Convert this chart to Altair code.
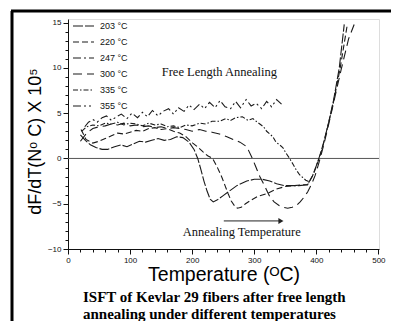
import altair as alt
import pandas as pd

# ---------------- data ----------------
series_names = ["203 °C", "220 °C", "247 °C", "300 °C", "335 °C", "355 °C"]
series_dash = [[10, 2], [6, 3], [8, 3, 2, 3], [9, 5], [5, 2, 1.5, 2], [8, 3, 2, 3, 2, 3]]

t203 = [20, 28, 36, 45, 55, 64, 75, 85, 95, 105, 115, 125, 135, 145, 155, 165, 175, 185, 195, 203,
        209, 214, 219, 224, 229, 234, 240, 250, 260, 272, 288, 300, 313, 325, 336, 348, 360, 372, 386,
        394, 400, 406, 412, 420, 428, 437, 445]
v203 = [2.6, 2.0, 1.5, 1.2, 1.0, 1.0, 1.3, 1.5, 1.3, 1.6, 1.9, 1.8, 2.0, 2.2, 2.0, 2.1, 2.4, 2.3, 1.8, 1.0,
        0.0, -1.2, -2.5, -3.6, -4.5, -4.8, -4.6, -4.1, -3.6, -3.0, -2.5, -2.3, -2.3, -2.5, -2.8, -3.0, -3.0, -3.0, -2.9,
        -1.9, -0.8, 0.4, 1.8, 4.0, 6.5, 10.0, 14.8]

t220 = [21, 29, 40, 50, 60, 70, 80, 90, 100, 110, 120, 130, 140, 150, 160, 170, 180, 190, 201, 210, 218,
        225, 233, 240, 248, 253, 258, 263, 268, 273, 279, 286, 295, 305, 320, 335, 350, 365, 378, 386,
        395, 403, 410, 418, 427, 438, 450]
v220 = [3.2, 2.1, 1.7, 1.9, 2.2, 2.5, 2.8, 2.7, 2.9, 3.1, 3.0, 3.3, 3.4, 3.2, 3.3, 3.0, 2.8, 2.4, 1.7, 1.2, 0.7,
        0.3, 0.0, -0.9, -2.1, -3.0, -3.9, -4.7, -5.2, -5.5, -5.4, -5.0, -4.6, -4.2, -3.9, -3.4, -3.1, -3.0, -2.9, -2.9,
        -1.8, -0.3, 1.2, 3.4, 6.0, 9.8, 14.8]

t300 = [20, 30, 40, 50, 60, 70, 80, 90, 100, 110, 120, 130, 140, 150, 160, 170, 180, 190, 200, 212, 222,
        232, 244, 256, 266, 277, 288, 297, 303, 309, 315, 320, 325, 332, 340, 347, 354, 361, 368, 374, 380,
        386, 392, 398, 405, 412, 420, 430, 440, 452, 461]
v300 = [1.9, 2.8, 3.3, 3.5, 3.6, 3.8, 3.7, 3.9, 3.6, 3.7, 3.5, 3.6, 3.4, 3.5, 3.3, 3.4, 3.3, 3.2, 3.0, 3.2, 3.0,
        2.9, 2.7, 2.4, 2.1, 1.8, 1.3, 0.0, -1.0, -2.0, -2.8, -3.5, -4.2, -4.8, -5.2, -5.4, -5.5, -5.4, -5.2, -4.8, -4.3,
        -3.7, -2.9, -1.9, -0.3, 1.5, 3.8, 6.8, 9.8, 13.2, 14.8]

t335 = [22, 30, 40, 50, 60, 70, 80, 90, 100, 110, 120, 130, 140, 150, 160, 170, 180, 190, 200, 212, 222,
        232, 244, 254, 262, 270, 281, 290, 298, 305, 309, 315, 320, 325, 330, 335, 341, 346, 351, 357, 363,
        368, 373, 378, 383, 389]
v335 = [3.0, 3.5, 3.7, 3.6, 3.9, 3.8, 4.0, 3.7, 3.9, 3.8, 3.6, 3.9, 3.7, 3.8, 3.5, 3.6, 3.4, 3.7, 3.6, 3.9, 3.8,
        4.1, 4.1, 4.4, 4.2, 4.5, 4.6, 4.2, 4.4, 4.0, 3.8, 3.5, 3.0, 2.7, 2.4, 1.8, 1.5, 1.2, 0.6, 0.0, -0.7,
        -1.3, -1.8, -2.1, -2.4, -2.6]

t355 = [27, 33, 40, 47, 55, 62, 70, 78, 86, 95, 103, 112, 120, 128, 136, 145, 153, 162, 170, 178, 187,
        195, 203, 212, 220, 228, 237, 245, 253, 262, 270, 278, 287, 295, 303, 312, 320, 328, 336, 344]
v355 = [3.5, 4.0, 4.3, 4.0, 4.5, 4.7, 4.2, 4.6, 4.9, 4.4, 5.0, 4.5, 5.1, 4.6, 5.3, 4.7, 5.2, 5.5, 4.9, 5.6, 5.2,
        5.9, 5.4, 6.0, 5.5, 6.2, 5.6, 6.4, 5.7, 5.5, 6.3, 5.6, 6.5, 5.8, 6.1, 5.5, 6.3, 5.7, 6.5, 6.0]

x_major = [0, 100, 200, 300, 400, 500]
x_minor = list(range(0, 501, 20))
y_major = [-10, -5, 0, 5, 10, 15]
y_minor = list(range(-10, 16, 1))

note_text = ["Free Length Annealing", "Annealing Temperature"]
note_x = [151, 185]
note_y = [9.5, -8.1]
arrow_x = [251, 340]
arrow_y = [-6.9, -6.9]

x_title = "Temperature (ᴼC)"
y_title = "dF/dT(Nᵒ C) X 10⁵"
caption = ["ISFT of Kevlar 29 fibers after free length",
           "annealing under different temperatures"]

# ---------------- build tables ----------------
rows = []
for name, ts, vs in [("203 °C", t203, v203), ("220 °C", t220, v220), ("300 °C", t300, v300),
                     ("335 °C", t335, v335), ("355 °C", t355, v355)]:
    for t, v in zip(ts, vs):
        rows.append({"series": name, "T": t, "v": v})
df = pd.DataFrame(rows)

notes = pd.DataFrame({"text": note_text, "T": note_x, "v": note_y})
arrow = pd.DataFrame({"T": [arrow_x[0]], "T2": [arrow_x[1]], "v": [arrow_y[0]]})
arrow_head = pd.DataFrame({"T": [arrow_x[1] + 3], "v": [arrow_y[1]]})

W, H = 311, 230
xs = alt.Scale(domain=[0, 501], nice=False, zero=False)
ys = alt.Scale(domain=[-10, 15.4], nice=False, zero=False)

x_axis = alt.Axis(values=x_major, title=x_title, orient="bottom", tickSize=5,
                  labelFont="Liberation Sans", labelFontSize=8, labelColor="#111", labelPadding=2,
                  titleFont="Liberation Sans", titleFontSize=19.5, titleFontWeight="normal",
                  titleColor="#000", titleY=25.5, titleBaseline="middle", grid=False,
                  domainColor="#111", tickColor="#111", labelOverlap=False, labelFlush=False)
y_axis = alt.Axis(values=y_major, title=y_title, orient="left", tickSize=5,
                  labelFont="Liberation Sans", labelFontSize=8, labelColor="#111", labelPadding=2,
                  titleFont="Liberation Sans", titleFontSize=18, titleFontWeight="normal",
                  titleColor="#000", titleAngle=270, titleX=-33, titleY=122, titleAlign="center",
                  titleBaseline="middle", grid=False, domainColor="#111", tickColor="#111",
                  labelOverlap=False, labelFlush=False)

x_minor_axis = alt.Axis(values=x_minor, labels=False, tickSize=3, domain=False, title=None,
                        orient="bottom", grid=False, tickColor="#111")
y_minor_axis = alt.Axis(values=y_minor, labels=False, tickSize=3, domain=False, title=None,
                        orient="left", grid=False, tickColor="#111")

lines = alt.Chart(df).mark_line(strokeWidth=1.1, color="#1a1a1a").encode(
    x=alt.X("T:Q", scale=xs, axis=x_axis),
    y=alt.Y("v:Q", scale=ys, axis=y_axis),
    strokeDash=alt.StrokeDash("series:N",
                              scale=alt.Scale(domain=series_names, range=series_dash),
                              legend=alt.Legend(title=None, orient="none", legendX=4, legendY=0,
                                                symbolType="stroke", symbolSize=441,
                                                symbolStrokeWidth=1.2, symbolStrokeColor="#1a1a1a",
                                                clipHeight=14, rowPadding=2, labelOffset=5,
                                                labelFont="Liberation Sans", labelFontSize=9,
                                                labelColor="#111")),
    detail="series:N",
)

minor = alt.Chart(pd.DataFrame({"v": [0], "T": [0]})).mark_point(opacity=0).encode(
    x=alt.X("T:Q", scale=xs, axis=x_minor_axis), y=alt.Y("v:Q", scale=ys, axis=y_minor_axis))

zero = alt.Chart(pd.DataFrame({"v": [0]})).mark_rule(color="#555", strokeWidth=1).encode(
    y=alt.Y("v:Q", scale=ys, axis=None))

text = alt.Chart(notes).mark_text(font="Liberation Serif", fontSize=12.5, align="left",
                                  baseline="middle", color="#111").encode(
    x=alt.X("T:Q", scale=xs, axis=None), y=alt.Y("v:Q", scale=ys, axis=None), text="text:N")

arr = alt.Chart(arrow).mark_rule(color="#222", strokeWidth=1).encode(
    x=alt.X("T:Q", scale=xs, axis=None), x2="T2:Q", y=alt.Y("v:Q", scale=ys, axis=None))
head = alt.Chart(arrow_head).mark_point(shape="triangle-right", filled=True, size=35,
                                        color="#222", opacity=1).encode(
    x=alt.X("T:Q", scale=xs, axis=None), y=alt.Y("v:Q", scale=ys, axis=None))

cap = alt.Chart(pd.DataFrame({"a": [0]})).mark_text(
    text=caption, font="Liberation Serif", fontSize=15, fontWeight="bold", lineHeight=17,
    align="left", baseline="middle", color="#000").encode(x=alt.value(15), y=alt.value(278))

frame_left = alt.Chart(pd.DataFrame({"a": [0]})).mark_rule(color="#000", strokeWidth=3).encode(
    x=alt.value(-56), y=alt.value(-8), y2=alt.value(320))
frame_top = alt.Chart(pd.DataFrame({"a": [0]})).mark_rule(color="#000", strokeWidth=3).encode(
    x=alt.value(-57), x2=alt.value(330), y=alt.value(-8))

chart = alt.layer(zero, minor, lines, text, arr, head, cap, frame_left, frame_top).resolve_axis(
    x="independent", y="independent"
).properties(
    width=W, height=H,
    autosize=alt.AutoSizeParams(type="none"),
    padding={"left": 60, "top": 11, "right": 12, "bottom": 72},
).configure_view(stroke="#222", strokeWidth=1).configure(background="white")

chart.save("out.html", embed_options={"renderer": "svg", "actions": False})
